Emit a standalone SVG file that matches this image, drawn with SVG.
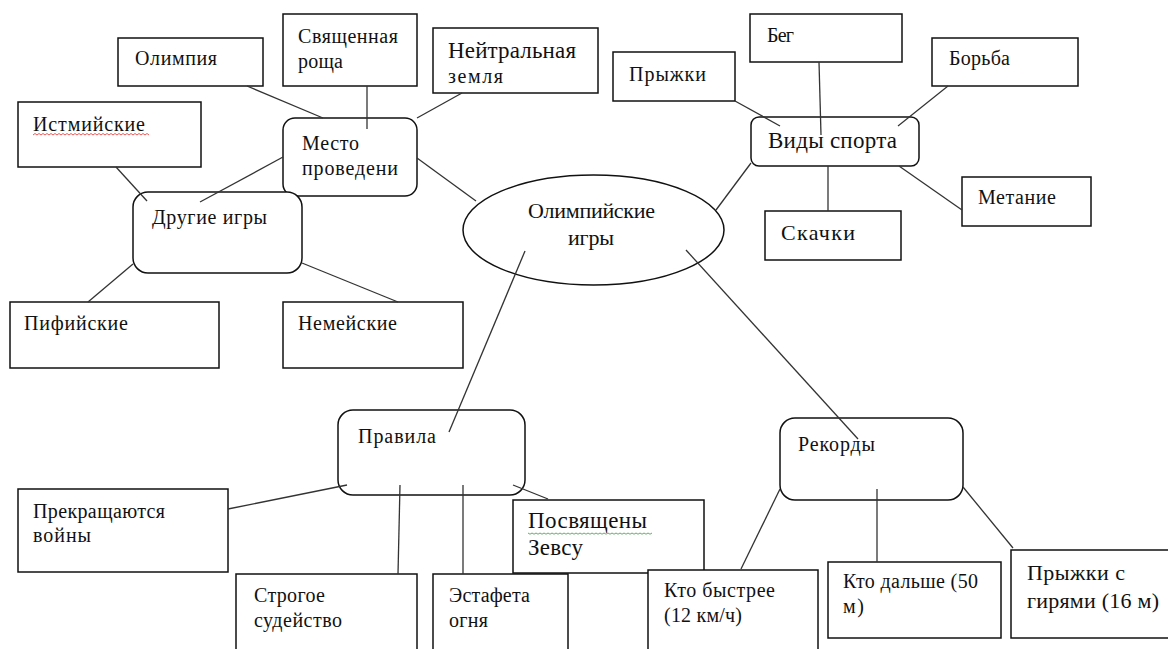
<svg xmlns="http://www.w3.org/2000/svg" width="1168" height="649" viewBox="0 0 1168 649">
<style>
.b{fill:#fff;stroke:#111;stroke-width:1.5}
.t{font-family:"Liberation Serif","Times New Roman",serif;font-size:20px;fill:#111}
.M{font-size:22px}
.L{font-size:23px}
#connectors line{stroke:#333;stroke-width:1.3}
</style>
<rect width="1168" height="649" fill="#fff"/>
<g id="n-olimpia"><rect class="b" x="118" y="38" width="145" height="48"/><text class="t" x="135" y="65" textLength="82" lengthAdjust="spacing">Олимпия</text></g>
<g id="n-roshcha"><rect class="b" x="283" y="14" width="134" height="72"/><text class="t" x="298" y="43" textLength="100" lengthAdjust="spacing">Священная</text><text class="t" x="298" y="68" textLength="45" lengthAdjust="spacing">роща</text></g>
<g id="n-neytr"><rect class="b" x="433" y="28" width="165" height="65"/><text class="t L" x="448" y="58" textLength="128" lengthAdjust="spacing">Нейтральная</text><text class="t" x="448" y="83" textLength="55" lengthAdjust="spacing">земля</text></g>
<g id="n-istm"><rect class="b" x="18" y="102" width="183" height="65"/><text class="t" x="33" y="131" textLength="112" lengthAdjust="spacing">Истмийские</text><path d="M33 135 l2 -1.5 l2 1.5 l2 -1.5 l2 1.5 l2 -1.5 l2 1.5 l2 -1.5 l2 1.5 l2 -1.5 l2 1.5 l2 -1.5 l2 1.5 l2 -1.5 l2 1.5 l2 -1.5 l2 1.5 l2 -1.5 l2 1.5 l2 -1.5 l2 1.5 l2 -1.5 l2 1.5 l2 -1.5 l2 1.5 l2 -1.5 l2 1.5 l2 -1.5 l2 1.5 l2 -1.5 l2 1.5 l2 -1.5 l2 1.5 l2 -1.5 l2 1.5 l2 -1.5 l2 1.5 l2 -1.5 l2 1.5 l2 -1.5 l2 1.5 l2 -1.5 l2 1.5 l2 -1.5 l2 1.5 l2 -1.5 l2 1.5 l2 -1.5 l2 1.5 l2 -1.5 l2 1.5 l2 -1.5 l2 1.5 l2 -1.5 l2 1.5 l2 -1.5 l2 1.5 l2 -1.5 l2 1.5" fill="none" stroke="#e03030" stroke-width="0.8"/></g>
<g id="n-mesto"><rect class="b" x="283" y="118" width="134" height="78" rx="12"/><text class="t" x="302" y="150" textLength="57" lengthAdjust="spacing">Место</text><text class="t" x="302" y="175" textLength="96" lengthAdjust="spacing">проведени</text></g>
<g id="n-drugie"><rect class="b" x="133" y="192" width="169" height="81" rx="15"/><text class="t" x="152" y="224" textLength="115" lengthAdjust="spacing">Другие игры</text></g>
<g id="n-pifi"><rect class="b" x="10" y="302" width="209" height="66"/><text class="t" x="24" y="330" textLength="104" lengthAdjust="spacing">Пифийские</text></g>
<g id="n-nemey"><rect class="b" x="283" y="302" width="180" height="66"/><text class="t" x="298" y="330" textLength="99" lengthAdjust="spacing">Немейские</text></g>
<g id="n-olymp"><ellipse class="b" cx="593.5" cy="230" rx="130.5" ry="55"/><text class="t M" x="528" y="218" textLength="127" lengthAdjust="spacing">Олимпийские</text><text class="t M" x="568" y="245" textLength="46" lengthAdjust="spacing">игры</text></g>
<g id="n-pryzhki"><rect class="b" x="613" y="52" width="122" height="49"/><text class="t" x="629" y="81" textLength="77" lengthAdjust="spacing">Прыжки</text></g>
<g id="n-beg"><rect class="b" x="750" y="14" width="152" height="48"/><text class="t" x="767" y="42" textLength="27" lengthAdjust="spacing">Бег</text></g>
<g id="n-borba"><rect class="b" x="932" y="38" width="146" height="48"/><text class="t" x="949" y="65" textLength="61" lengthAdjust="spacing">Борьба</text></g>
<g id="n-vidy"><rect class="b" x="751" y="117" width="168" height="49" rx="8"/><text class="t L" x="768" y="148" textLength="129" lengthAdjust="spacing">Виды спорта</text></g>
<g id="n-metanie"><rect class="b" x="962" y="177" width="129" height="49"/><text class="t" x="978" y="204" textLength="78" lengthAdjust="spacing">Метание</text></g>
<g id="n-skachki"><rect class="b" x="765" y="211" width="136" height="49"/><text class="t M" x="781" y="240" textLength="74" lengthAdjust="spacing">Скачки</text></g>
<g id="n-pravila"><rect class="b" x="338" y="410" width="187" height="85" rx="15"/><text class="t" x="358" y="443" textLength="78" lengthAdjust="spacing">Правила</text></g>
<g id="n-prekr"><rect class="b" x="18" y="489" width="210" height="83"/><text class="t" x="33" y="518" textLength="132" lengthAdjust="spacing">Прекращаются</text><text class="t" x="33" y="542" textLength="58" lengthAdjust="spacing">войны</text></g>
<g id="n-strogoe"><rect class="b" x="236" y="574" width="181" height="90"/><text class="t" x="254" y="602" textLength="71" lengthAdjust="spacing">Строгое</text><text class="t" x="254" y="627" textLength="88" lengthAdjust="spacing">судейство</text></g>
<g id="n-estafeta"><rect class="b" x="433" y="574" width="135" height="90"/><text class="t" x="449" y="602" textLength="81" lengthAdjust="spacing">Эстафета</text><text class="t" x="449" y="627" textLength="39" lengthAdjust="spacing">огня</text></g>
<g id="n-posv"><rect class="b" x="513" y="500" width="191" height="73"/><text class="t L" x="528" y="528" textLength="119" lengthAdjust="spacing">Посвящены</text><path d="M528 533 l2 1.2 l2 -1.2 l2 1.2 l2 -1.2 l2 1.2 l2 -1.2 l2 1.2 l2 -1.2 l2 1.2 l2 -1.2 l2 1.2 l2 -1.2 l2 1.2 l2 -1.2 l2 1.2 l2 -1.2 l2 1.2 l2 -1.2 l2 1.2 l2 -1.2 l2 1.2 l2 -1.2 l2 1.2 l2 -1.2 l2 1.2 l2 -1.2 l2 1.2 l2 -1.2 l2 1.2 l2 -1.2 l2 1.2 l2 -1.2 l2 1.2 l2 -1.2 l2 1.2 l2 -1.2 l2 1.2 l2 -1.2 l2 1.2 l2 -1.2 l2 1.2 l2 -1.2 l2 1.2 l2 -1.2 l2 1.2 l2 -1.2 l2 1.2 l2 -1.2 l2 1.2 l2 -1.2 l2 1.2 l2 -1.2 l2 1.2 l2 -1.2 l2 1.2 l2 -1.2 l2 1.2 l2 -1.2 l2 1.2 l2 -1.2 l2 1.2 l2 -1.2" fill="none" stroke="#3a9a3a" stroke-width="0.8"/><text class="t L" x="528" y="555" textLength="55" lengthAdjust="spacing">Зевсу</text></g>
<g id="n-rekordy"><rect class="b" x="780" y="418" width="183" height="82" rx="15"/><text class="t" x="798" y="451" textLength="77" lengthAdjust="spacing">Рекорды</text></g>
<g id="n-bystree"><rect class="b" x="648" y="570" width="170" height="94"/><text class="t" x="664" y="597" textLength="111" lengthAdjust="spacing">Кто быстрее</text><text class="t" x="664" y="622" textLength="78" lengthAdjust="spacing">(12 км/ч)</text></g>
<g id="n-dalshe"><rect class="b" x="828" y="562" width="173" height="76"/><text class="t" x="843" y="588" textLength="135" lengthAdjust="spacing">Кто дальше (50</text><text class="t" x="843" y="613" textLength="21" lengthAdjust="spacing">м)</text></g>
<g id="n-giri"><rect class="b" x="1011" y="550" width="170" height="88"/><text class="t M" x="1027" y="580" textLength="98" lengthAdjust="spacing">Прыжки с</text><text class="t M" x="1027" y="608" textLength="132" lengthAdjust="spacing">гирями (16 м)</text></g>
<g id="connectors">
<line x1="247" y1="86" x2="323" y2="118"/>
<line x1="367" y1="86" x2="367" y2="129"/>
<line x1="462" y1="93" x2="417" y2="118"/>
<line x1="417" y1="158" x2="476" y2="201"/>
<line x1="283" y1="157" x2="200" y2="202"/>
<line x1="116" y1="167" x2="147" y2="201"/>
<line x1="133" y1="264" x2="88" y2="302"/>
<line x1="302" y1="263" x2="398" y2="302"/>
<line x1="735" y1="101" x2="780" y2="126"/>
<line x1="819" y1="62" x2="821" y2="135"/>
<line x1="948" y1="86" x2="898" y2="126"/>
<line x1="899" y1="166" x2="962" y2="210"/>
<line x1="828" y1="166" x2="828" y2="211"/>
<line x1="716" y1="210" x2="751" y2="163"/>
<line x1="525" y1="251" x2="449" y2="432"/>
<line x1="686" y1="250" x2="858" y2="439"/>
<line x1="347" y1="485" x2="228" y2="509"/>
<line x1="400" y1="485" x2="398" y2="574"/>
<line x1="463" y1="485" x2="463" y2="574"/>
<line x1="513" y1="485" x2="548" y2="499"/>
<line x1="780" y1="489" x2="741" y2="569"/>
<line x1="877" y1="489" x2="877" y2="562"/>
<line x1="963" y1="487" x2="1013" y2="548"/>
</g>
</svg>
